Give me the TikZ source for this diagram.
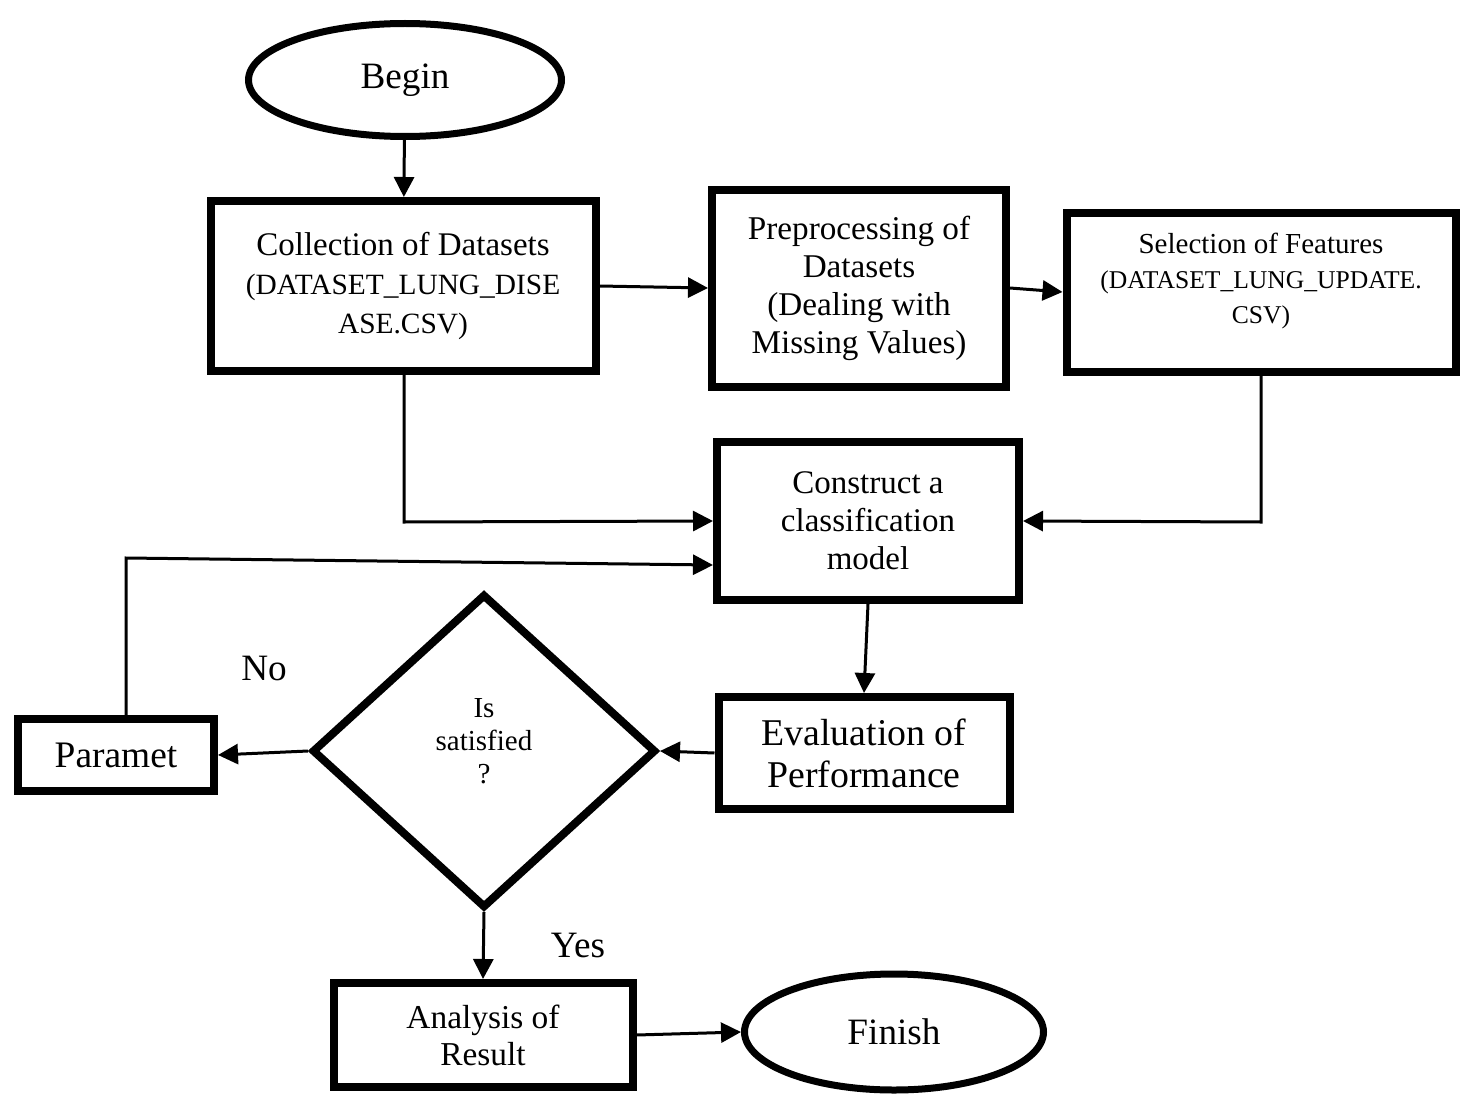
\documentclass[tikz,border=0pt]{standalone}
\usepackage{fontspec}
\setmainfont{Liberation Serif}
\usepackage{tikz}
\usetikzlibrary{shapes.geometric, arrows.meta, positioning}

\newcommand{\fnsz}[2]{\fontsize{#1}{#2}\selectfont}

\begin{document}
\begin{tikzpicture}[
    x=0.5pt, y=-0.5pt,
    stepbox/.style={rectangle, draw=black, line width=4pt, align=center, fill=white},
    terminal/.style={ellipse, draw=black, line width=3.5pt, font=\fnsz{18.6}{22}},
    decision/.style={diamond, draw=black, line width=4pt, align=center, minimum width=172pt, minimum height=157pt, inner sep=0pt, font=\fnsz{14.5}{16.5}},
    arrow/.style={-{Triangle[length=10pt, width=10pt]}, line width=1.5pt},
    tag/.style={font=\fnsz{18.6}{22}}
]
    \useasboundingbox (0,0) rectangle (1467,1097);

    % Start and top row
    \node[terminal, minimum width=156.5pt, minimum height=56.5pt] (begin) at (405,80) {Begin};
    \node[stepbox, minimum width=192.5pt, minimum height=85pt, font=\fnsz{16.5}{19.5}] (collect) at (403,286)
        {Collection of Datasets\\\fnsz{14.7}{19.5}(DATASET\_LUNG\_DISE\\\fnsz{14.7}{19.5}ASE.CSV)};
    \node[stepbox, minimum width=147pt, minimum height=98.5pt, font=\fnsz{16.6}{19}] (prep) at (859,288)
        {Preprocessing of\\Datasets\\(Dealing with\\Missing Values)};
    \node[stepbox, minimum width=194.5pt, minimum height=79.5pt, font=\fnsz{14.5}{17.5}] (select) at (1261,292)
        {Selection of Features\\\fnsz{12.8}{17.5}(DATASET\_LUNG\_UPDATE.\\\fnsz{12.8}{17.5}CSV)\\[-4pt]};

    % Model and evaluation
    \node[stepbox, minimum width=151pt, minimum height=79pt, font=\fnsz{16.5}{19}] (model) at (868,521)
        {Construct a\\classification\\model};
    \node[stepbox, minimum width=145.5pt, minimum height=56pt, font=\fnsz{18.9}{21}] (eval) at (864,753)
        {Evaluation of\\Performance};
    \node[decision] (check) at (484,751) {Is\\satisfied\\?\\[-6.5pt]};
    \node[stepbox, minimum width=98pt, minimum height=36pt, font=\fnsz{18.7}{20}] (param) at (116,755) {Paramet};

    % End
    \node[stepbox, minimum width=149.5pt, minimum height=52pt, font=\fnsz{16.7}{18.5}] (result) at (483,1035)
        {Analysis of\\Result};
    \node[terminal, minimum width=149.5pt, minimum height=58pt] (finish) at (894,1032) {Finish};

    % Labels
    \node[tag] (nolabel) at (264,668) {No};
    \node[tag] (yeslabel) at (578,945) {Yes};

    % Connectors
    \coordinate (c1) at (404,522);
    \coordinate (c2) at (1261,522);
    \coordinate (c3) at (126,558);
    \draw[arrow] (begin) -- (collect);
    \draw[arrow] (collect.east) -- (prep.west);
    \draw[arrow] (prep.east) -- (select.west);
    \draw[arrow] (collect.south -| c1) -- (c1) -- (model.west);
    \draw[arrow] (select.south) -- (c2) -- (model.east);
    \draw[arrow] (param.north -| c3) -- (c3) -- ([yshift=-22pt]model.west);
    \draw[arrow] (model.south) -- (eval.north);
    \draw[arrow] (eval.west) -- (check.east);
    \draw[arrow] (check.west) -- (param.east);
    \draw[arrow] (check.south) -- (result.north);
    \draw[arrow] (result.east) -- (finish.west);
\end{tikzpicture}
\end{document}
